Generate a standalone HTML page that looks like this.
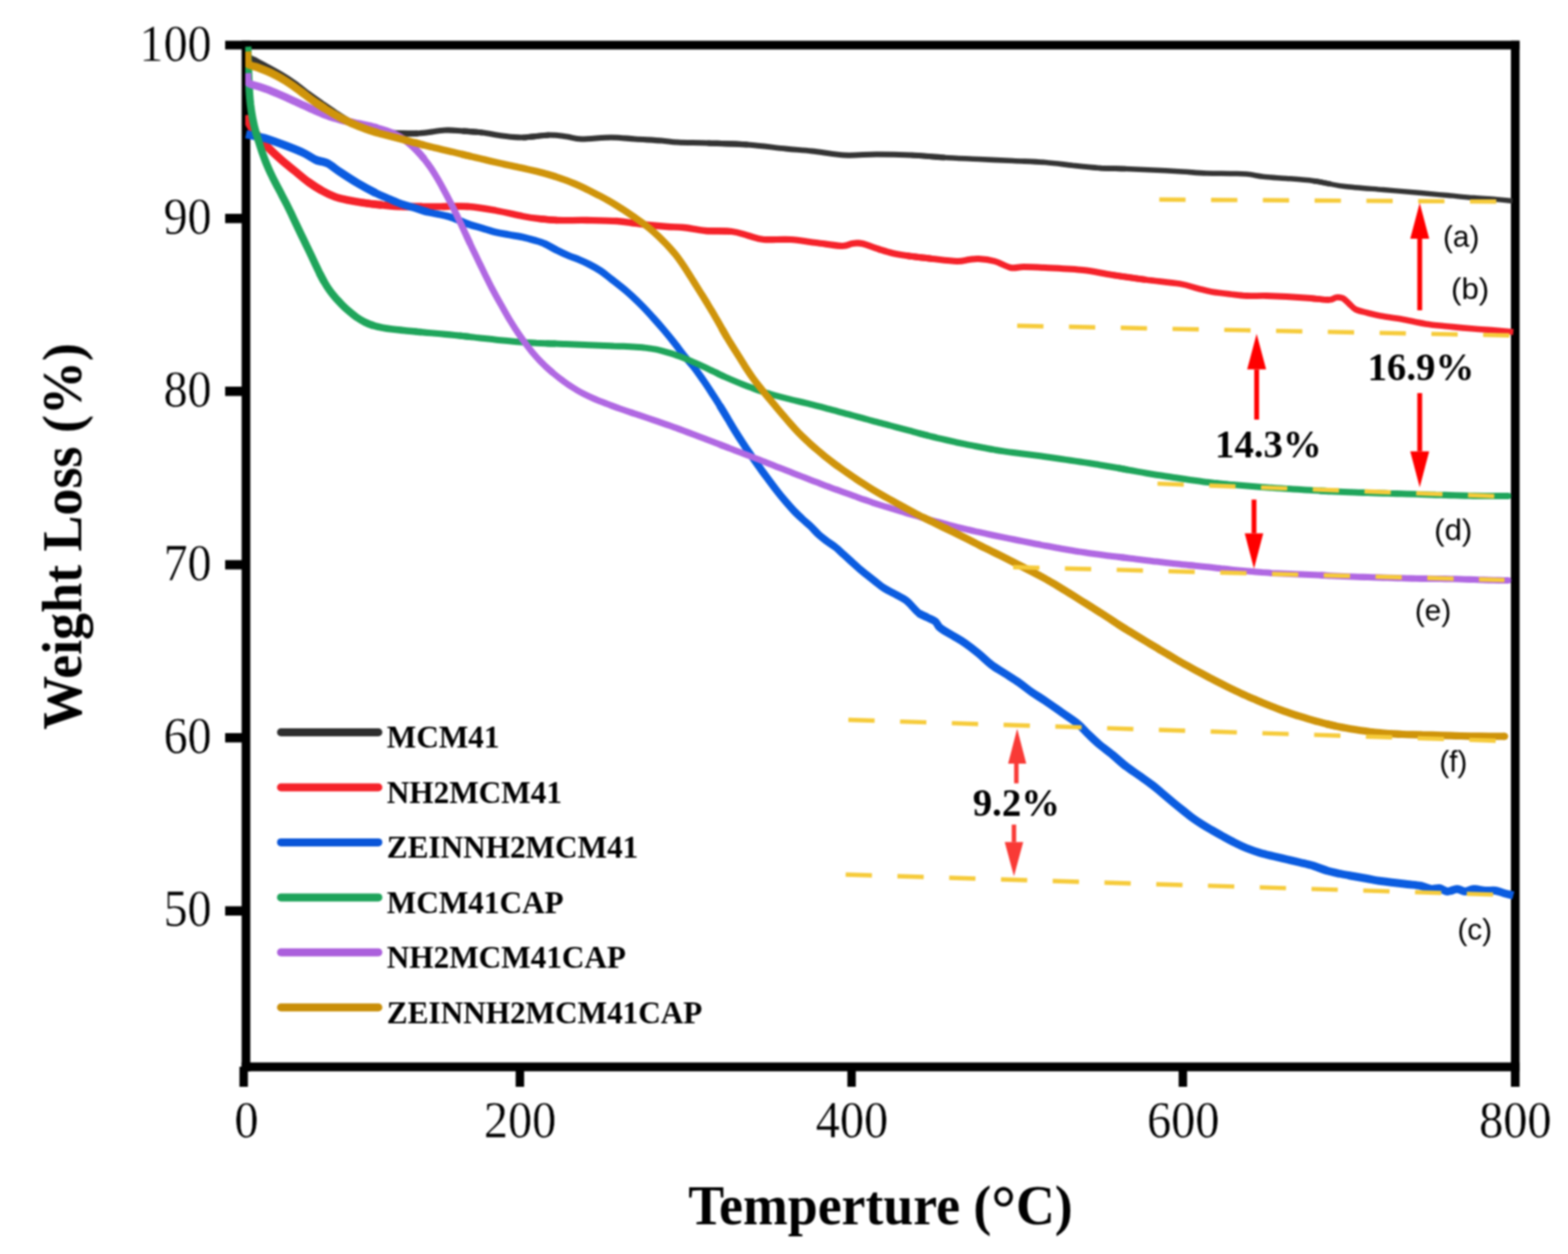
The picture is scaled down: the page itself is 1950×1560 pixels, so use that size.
<!DOCTYPE html>
<html lang="en">
<head>
<meta charset="utf-8">
<style>
html,body{margin:0;padding:0;background:#fff;}
body{width:1950px;height:1560px;overflow:hidden;}
svg{display:block;position:absolute;left:0;top:0;}
.tick{font-family:"Liberation Serif","DejaVu Serif",serif;font-size:66px;fill:#000;stroke:#fff;stroke-width:0.4px;vector-effect:non-scaling-stroke;}
.ttl{font-family:"Liberation Serif","DejaVu Serif",serif;font-weight:bold;font-size:69.5px;fill:#000;}
.leg{font-family:"Liberation Serif","DejaVu Serif",serif;font-weight:bold;font-size:40px;fill:#000;}
.pct{font-family:"Liberation Serif","DejaVu Serif",serif;font-weight:bold;font-size:49.5px;fill:#000;}
.lab{font-family:"Liberation Sans","DejaVu Sans",sans-serif;font-size:37px;fill:#000;}
.crv{fill:none;stroke-linecap:butt;stroke-linejoin:round;}
.dash{fill:none;stroke:#f6cb3a;stroke-width:5.4;}
</style>
</head>
<body>
<svg width="1950" height="1560" viewBox="0 0 1950 1560">
<defs><filter id="soft" filterUnits="userSpaceOnUse" x="0" y="0" width="1950" height="1560" color-interpolation-filters="sRGB"><feGaussianBlur stdDeviation="0.8"/></filter></defs>
<rect x="0" y="0" width="1950" height="1560" fill="#ffffff"/>
<g filter="url(#soft)">

<g id="axes" fill="#000">
<rect x="300.5" y="50.7" width="10.8" height="1282.3"/>
<rect x="280.0" y="50.7" width="1609.8" height="10.8"/>
<rect x="1879.0" y="50.7" width="10.8" height="1301.3"/>
<rect x="300.5" y="1321.7" width="1589.3" height="11.0"/>
<rect x="280.0" y="266.0" width="25.0" height="11.6"/>
<rect x="280.0" y="481.0" width="25.0" height="11.6"/>
<rect x="280.0" y="696.8" width="25.0" height="11.6"/>
<rect x="280.0" y="912.0" width="25.0" height="11.6"/>
<rect x="280.0" y="1127.4" width="25.0" height="11.6"/>
<rect x="297.8" y="1327.0" width="10.5" height="25.0"/>
<rect x="641.3" y="1327.0" width="10.5" height="25.0"/>
<rect x="1053.8" y="1327.0" width="10.5" height="25.0"/>
<rect x="1465.8" y="1327.0" width="10.5" height="25.0"/>
</g>
<clipPath id="plotclip"><rect x="305" y="55" width="1581" height="1272"/></clipPath>
<g id="curves" clip-path="url(#plotclip)">
<path class="crv" d="M307.0 70.0 C308.0 70.5 310.8 71.9 313.0 73.0 C315.2 74.1 316.7 74.8 320.0 76.5 C323.3 78.2 328.0 80.8 333.0 83.5 C338.0 86.2 344.3 89.6 350.0 93.0 C355.7 96.4 361.5 100.1 367.0 104.0 C372.5 107.9 377.5 112.4 383.0 116.5 C388.5 120.6 394.3 124.6 400.0 128.5" stroke="#333333" stroke-width="7.53"/>
<path class="crv" d="M383.0 116.5 C388.5 120.6 394.3 124.6 400.0 128.5 C405.7 132.4 411.5 136.4 417.0 140.0 C422.5 143.6 427.5 147.0 433.0 150.0 C438.5 153.0 444.3 155.8 450.0 158.0 C455.7 160.2 461.5 161.8 467.0 163.0" stroke="#333333" stroke-width="7.41"/>
<path class="crv" d="M450.0 158.0 C455.7 160.2 461.5 161.8 467.0 163.0 C472.5 164.2 474.2 164.5 483.0 165.0 C491.8 165.5 508.3 166.5 520.0 166.0" stroke="#333333" stroke-width="7.31"/>
<path class="crv" d="M483.0 165.0 C491.8 165.5 508.3 166.5 520.0 166.0 C531.7 165.5 543.8 162.5 553.0 162.0 C562.2 161.5 567.2 162.5 575.0 163.0 C582.8 163.5 591.7 164.0 600.0 165.0" stroke="#333333" stroke-width="7.22"/>
<path class="crv" d="M575.0 163.0 C582.8 163.5 591.7 164.0 600.0 165.0 C608.3 166.0 616.7 168.0 625.0 169.0 C633.3 170.0 640.3 171.2 650.0 171.0 C659.7 170.8 673.8 168.2 683.0 168.0" stroke="#333333" stroke-width="7.17"/>
<path class="crv" d="M650.0 171.0 C659.7 170.8 673.8 168.2 683.0 168.0 C692.2 167.8 698.3 169.2 705.0 170.0 C711.7 170.8 713.8 172.8 723.0 173.0 C732.2 173.2 748.8 171.0 760.0 171.0 C771.2 171.0 779.5 172.3 790.0 173.0 C800.5 173.7 814.2 174.3 823.0 175.0 C831.8 175.7 833.5 176.5 843.0 177.0 C852.5 177.5 865.5 177.5 880.0 178.0 C894.5 178.5 913.8 178.8 930.0 180.0" stroke="#333333" stroke-width="7.10"/>
<path class="crv" d="M880.0 178.0 C894.5 178.5 913.8 178.8 930.0 180.0 C946.2 181.2 963.7 183.7 977.0 185.0 C990.3 186.3 997.8 186.7 1010.0 188.0 C1022.2 189.3 1036.7 192.3 1050.0 193.0 C1063.3 193.7 1076.2 192.0 1090.0 192.0 C1103.8 192.0 1118.8 192.3 1133.0 193.0 C1147.2 193.7 1161.0 195.2 1175.0 196.0" stroke="#333333" stroke-width="6.98"/>
<path class="crv" d="M1133.0 193.0 C1147.2 193.7 1161.0 195.2 1175.0 196.0 C1189.0 196.8 1202.8 197.3 1217.0 198.0 C1231.2 198.7 1246.2 199.3 1260.0 200.0 C1273.8 200.7 1287.5 201.0 1300.0 202.0 C1312.5 203.0 1323.8 204.8 1335.0 206.0 C1346.2 207.2 1356.2 208.3 1367.0 209.0 C1377.8 209.7 1389.0 209.6 1400.0 210.0" stroke="#333333" stroke-width="6.75"/>
<path class="crv" d="M1367.0 209.0 C1377.8 209.7 1389.0 209.6 1400.0 210.0 C1411.0 210.4 1421.3 210.9 1433.0 211.5 C1444.7 212.1 1458.8 212.8 1470.0 213.5 C1481.2 214.2 1490.0 215.1 1500.0 215.5 C1510.0 215.9 1521.7 215.8 1530.0 216.0 C1538.3 216.2 1542.8 215.8 1550.0 216.5 C1557.2 217.2 1564.7 219.1 1573.0 220.0 C1581.3 220.9 1590.0 221.2 1600.0 222.0 C1610.0 222.8 1623.8 223.8 1633.0 225.0 C1642.2 226.2 1648.3 227.8 1655.0 229.0" stroke="#333333" stroke-width="6.52"/>
<path class="crv" d="M1633.0 225.0 C1642.2 226.2 1648.3 227.8 1655.0 229.0 C1661.7 230.2 1662.2 230.8 1673.0 232.0 C1683.8 233.2 1704.3 234.7 1720.0 236.0 C1735.7 237.3 1753.7 238.8 1767.0 240.0 C1780.3 241.2 1789.0 242.0 1800.0 243.0 C1811.0 244.0 1823.0 245.2 1833.0 246.0 C1843.0 246.8 1852.0 247.3 1860.0 248.0 C1868.0 248.7 1877.5 249.7 1881.0 250.0" stroke="#333333" stroke-width="6.31"/>
<path class="crv" d="M307.5 143.0 C307.8 144.5 308.1 149.3 309.0 152.0 C309.9 154.7 311.2 156.3 313.0 159.0 C314.8 161.7 316.7 164.0 320.0 168.0 C323.3 172.0 328.0 177.8 333.0 183.0 C338.0 188.2 344.3 194.0 350.0 199.0 C355.7 204.0 361.5 208.5 367.0 213.0 C372.5 217.5 377.5 222.0 383.0 226.0 C388.5 230.0 394.3 233.8 400.0 237.0" stroke="#f5222a" stroke-width="9.92"/>
<path class="crv" d="M383.0 226.0 C388.5 230.0 394.3 233.8 400.0 237.0 C405.7 240.2 411.5 243.0 417.0 245.0 C422.5 247.0 427.5 247.8 433.0 249.0 C438.5 250.2 443.0 251.0 450.0 252.0 C457.0 253.0 466.7 254.2 475.0 255.0" stroke="#f5222a" stroke-width="9.80"/>
<path class="crv" d="M450.0 252.0 C457.0 253.0 466.7 254.2 475.0 255.0 C483.3 255.8 491.7 256.7 500.0 257.0 C508.3 257.3 516.7 257.0 525.0 257.0" stroke="#f5222a" stroke-width="9.15"/>
<path class="crv" d="M500.0 257.0 C508.3 257.3 516.7 257.0 525.0 257.0 C533.3 257.0 540.3 257.0 550.0 257.0 C559.7 257.0 571.8 256.2 583.0 257.0" stroke="#f5222a" stroke-width="8.51"/>
<path class="crv" d="M550.0 257.0 C559.7 257.0 571.8 256.2 583.0 257.0 C594.2 257.8 605.8 260.0 617.0 262.0 C628.2 264.0 641.2 267.3 650.0 269.0 C658.8 270.7 662.8 271.2 670.0 272.0 C677.2 272.8 683.0 273.7 693.0 274.0" stroke="#f5222a" stroke-width="8.37"/>
<path class="crv" d="M670.0 272.0 C677.2 272.8 683.0 273.7 693.0 274.0 C703.0 274.3 717.7 273.8 730.0 274.0 C742.3 274.2 757.0 274.3 767.0 275.0 C777.0 275.7 783.3 277.2 790.0 278.0 C796.7 278.8 800.3 279.3 807.0 280.0 C813.7 280.7 822.8 281.5 830.0 282.0 C837.2 282.5 842.2 282.2 850.0 283.0 C857.8 283.8 867.0 286.2 877.0 287.0 C887.0 287.8 901.2 287.0 910.0 288.0" stroke="#f5222a" stroke-width="8.30"/>
<path class="crv" d="M877.0 287.0 C887.0 287.8 901.2 287.0 910.0 288.0 C918.8 289.0 923.3 291.3 930.0 293.0 C936.7 294.7 941.2 297.2 950.0 298.0 C958.8 298.8 972.2 297.3 983.0 298.0 C993.8 298.7 1004.3 300.7 1015.0 302.0 C1025.7 303.3 1039.5 305.8 1047.0 306.0 C1054.5 306.2 1055.8 303.5 1060.0 303.0 C1064.2 302.5 1066.5 301.8 1072.0 303.0 C1077.5 304.2 1086.7 308.0 1093.0 310.0 C1099.3 312.0 1104.3 313.7 1110.0 315.0 C1115.7 316.3 1118.7 316.8 1127.0 318.0 C1135.3 319.2 1149.5 320.8 1160.0 322.0" stroke="#f5222a" stroke-width="8.18"/>
<path class="crv" d="M1127.0 318.0 C1135.3 319.2 1149.5 320.8 1160.0 322.0 C1170.5 323.2 1182.5 324.8 1190.0 325.0 C1197.5 325.2 1200.5 323.5 1205.0 323.0 C1209.5 322.5 1211.7 321.7 1217.0 322.0 C1222.3 322.3 1230.3 323.2 1237.0 325.0 C1243.7 326.8 1251.0 331.8 1257.0 333.0 C1263.0 334.2 1265.8 332.0 1273.0 332.0 C1280.2 332.0 1287.7 332.3 1300.0 333.0 C1312.3 333.7 1333.2 334.5 1347.0 336.0 C1360.8 337.5 1370.0 340.0 1383.0 342.0 C1396.0 344.0 1411.0 346.2 1425.0 348.0" stroke="#f5222a" stroke-width="7.98"/>
<path class="crv" d="M1383.0 342.0 C1396.0 344.0 1411.0 346.2 1425.0 348.0 C1439.0 349.8 1456.2 351.2 1467.0 353.0 C1477.8 354.8 1483.3 357.3 1490.0 359.0 C1496.7 360.7 1500.3 361.8 1507.0 363.0 C1513.7 364.2 1522.8 365.2 1530.0 366.0 C1537.2 366.8 1542.5 367.7 1550.0 368.0 C1557.5 368.3 1566.7 367.8 1575.0 368.0 C1583.3 368.2 1590.8 368.5 1600.0 369.0 C1609.2 369.5 1621.2 370.3 1630.0 371.0 C1638.8 371.7 1647.7 373.2 1653.0 373.0" stroke="#f5222a" stroke-width="7.78"/>
<path class="crv" d="M1630.0 371.0 C1638.8 371.7 1647.7 373.2 1653.0 373.0 C1658.3 372.8 1659.2 370.3 1662.0 370.0 C1664.8 369.7 1667.3 369.7 1670.0 371.0 C1672.7 372.3 1675.3 375.7 1678.0 378.0 C1680.7 380.3 1682.3 383.2 1686.0 385.0 C1689.7 386.8 1694.8 387.7 1700.0 389.0 C1705.2 390.3 1709.8 391.7 1717.0 393.0 C1724.2 394.3 1733.7 395.3 1743.0 397.0 C1752.3 398.7 1763.5 401.5 1773.0 403.0 C1782.5 404.5 1790.0 405.0 1800.0 406.0 C1810.0 407.0 1823.0 408.2 1833.0 409.0 C1843.0 409.8 1851.8 410.3 1860.0 411.0 C1868.2 411.7 1878.3 412.7 1882.0 413.0" stroke="#f5222a" stroke-width="7.59"/>
<path class="crv" d="M306.0 167.0 C308.3 167.5 315.5 169.0 320.0 170.0 C324.5 171.0 327.2 171.2 333.0 173.0 C338.8 174.8 347.7 178.2 355.0 181.0 C362.3 183.8 370.7 187.0 377.0 190.0 C383.3 193.0 388.0 196.8 393.0 199.0 C398.0 201.2 402.0 200.5 407.0 203.0" stroke="#0b5ce0" stroke-width="10.12"/>
<path class="crv" d="M393.0 199.0 C398.0 201.2 402.0 200.5 407.0 203.0 C412.0 205.5 416.7 209.8 423.0 214.0 C429.3 218.2 437.7 223.7 445.0 228.0 C452.3 232.3 460.7 236.8 467.0 240.0" stroke="#0b5ce0" stroke-width="10.00"/>
<path class="crv" d="M445.0 228.0 C452.3 232.3 460.7 236.8 467.0 240.0 C473.3 243.2 477.5 244.7 483.0 247.0 C488.5 249.3 494.3 252.0 500.0 254.0 C505.7 256.0 511.5 257.3 517.0 259.0 C522.5 260.7 525.8 262.2 533.0 264.0" stroke="#0b5ce0" stroke-width="9.45"/>
<path class="crv" d="M517.0 259.0 C522.5 260.7 525.8 262.2 533.0 264.0 C540.2 265.8 551.7 267.5 560.0 270.0 C568.3 272.5 576.3 276.7 583.0 279.0" stroke="#0b5ce0" stroke-width="8.89"/>
<path class="crv" d="M560.0 270.0 C568.3 272.5 576.3 276.7 583.0 279.0 C589.7 281.3 594.3 282.3 600.0 284.0 C605.7 285.7 611.5 287.7 617.0 289.0 C622.5 290.3 627.5 291.0 633.0 292.0 C638.5 293.0 644.7 293.8 650.0 295.0 C655.3 296.2 660.5 297.7 665.0 299.0 C669.5 300.3 672.5 301.0 677.0 303.0 C681.5 305.0 687.0 308.5 692.0 311.0" stroke="#0b5ce0" stroke-width="8.80"/>
<path class="crv" d="M677.0 303.0 C681.5 305.0 687.0 308.5 692.0 311.0 C697.0 313.5 702.3 316.0 707.0 318.0 C711.7 320.0 715.7 321.2 720.0 323.0 C724.3 324.8 728.5 326.7 733.0 329.0 C737.5 331.3 742.5 334.0 747.0 337.0 C751.5 340.0 754.5 342.7 760.0 347.0 C765.5 351.3 773.7 357.5 780.0 363.0 C786.3 368.5 792.7 374.7 798.0 380.0 C803.3 385.3 807.3 389.8 812.0 395.0 C816.7 400.2 821.5 405.7 826.0 411.0 C830.5 416.3 834.7 421.5 839.0 427.0 C843.3 432.5 848.1 439.2 852.0 444.0 C855.9 448.8 858.5 451.2 862.3 456.0 C866.1 460.8 870.8 467.6 874.6 473.0 C878.4 478.4 881.5 483.2 884.9 488.5 C888.3 493.8 891.7 499.0 895.1 504.5 C898.5 510.0 902.0 515.8 905.4 521.5" stroke="#0b5ce0" stroke-width="8.80"/>
<path class="crv" d="M895.1 504.5 C898.5 510.0 902.0 515.8 905.4 521.5 C908.8 527.2 912.2 533.0 915.6 538.5 C919.0 544.0 922.5 549.2 925.9 554.4 C929.3 559.6 932.8 564.6 936.2 569.5 C939.6 574.4 943.0 579.2 946.4 584.0 C949.8 588.8 953.3 593.4 956.7 598.0 C960.1 602.6 963.5 607.1 966.9 611.5 C970.3 615.9 973.8 620.1 977.2 624.1 C980.6 628.1 984.0 631.9 987.4 635.5 C990.8 639.1 994.3 642.3 997.7 645.5 C1001.1 648.7 1004.5 651.2 1007.9 654.5 C1011.3 657.8 1014.8 662.0 1018.2 665.1 C1021.6 668.2 1025.1 670.7 1028.5 673.3 C1031.9 675.9 1035.3 677.8 1038.7 680.5 C1042.1 683.2 1045.6 686.6 1049.0 689.7 C1052.4 692.8 1055.8 695.9 1059.2 699.0 C1062.6 702.1 1066.1 705.3 1069.5 708.2 C1072.9 711.1 1076.6 713.9 1079.7 716.4 C1082.8 718.9 1084.6 720.4 1088.0 723.0 C1091.4 725.6 1095.8 729.3 1100.0 732.0 C1104.2 734.7 1108.5 736.5 1113.0 739.0 C1117.5 741.5 1123.3 744.3 1127.0 747.0 C1130.7 749.7 1132.3 752.3 1135.0 755.0 C1137.7 757.7 1140.0 760.8 1143.0 763.0 C1146.0 765.2 1149.7 766.3 1153.0 768.0" stroke="#0b5ce0" stroke-width="9.22"/>
<path class="crv" d="M1143.0 763.0 C1146.0 765.2 1149.7 766.3 1153.0 768.0 C1156.3 769.7 1160.5 771.0 1163.0 773.0 C1165.5 775.0 1166.0 778.0 1168.0 780.0 C1170.0 782.0 1171.8 783.0 1175.0 785.0 C1178.2 787.0 1182.8 789.5 1187.0 792.0 C1191.2 794.5 1195.0 796.5 1200.0 800.0 C1205.0 803.5 1211.5 808.5 1217.0 813.0 C1222.5 817.5 1227.5 822.8 1233.0 827.0 C1238.5 831.2 1244.3 834.3 1250.0 838.0 C1255.7 841.7 1261.5 845.2 1267.0 849.0 C1272.5 852.8 1277.5 857.2 1283.0 861.0 C1288.5 864.8 1293.8 867.8 1300.0 872.0 C1306.2 876.2 1313.3 881.3 1320.0 886.0 C1326.7 890.7 1334.5 895.5 1340.0 900.0 C1345.5 904.5 1348.5 908.7 1353.0 913.0 C1357.5 917.3 1362.0 921.8 1367.0 926.0 C1372.0 930.2 1377.5 934.0 1383.0 938.5 C1388.5 943.0 1394.3 948.6 1400.0 953.0" stroke="#0b5ce0" stroke-width="9.82"/>
<path class="crv" d="M1383.0 938.5 C1388.5 943.0 1394.3 948.6 1400.0 953.0 C1405.7 957.4 1411.5 961.1 1417.0 965.0 C1422.5 968.9 1428.3 972.9 1433.0 976.5 C1437.7 980.1 1440.8 983.0 1445.0 986.5 C1449.2 990.0 1453.7 993.9 1458.0 997.5 C1462.3 1001.1 1466.8 1004.7 1471.0 1008.0 C1475.2 1011.3 1479.0 1014.6 1483.0 1017.5 C1487.0 1020.4 1491.3 1023.2 1495.0 1025.5 C1498.7 1027.8 1500.8 1029.1 1505.0 1031.5 C1509.2 1033.9 1515.3 1037.4 1520.0 1040.0 C1524.7 1042.6 1528.0 1044.5 1533.0 1047.0 C1538.0 1049.5 1544.3 1052.7 1550.0 1055.0 C1555.7 1057.3 1561.5 1059.3 1567.0 1061.0 C1572.5 1062.7 1577.5 1063.7 1583.0 1065.0 C1588.5 1066.3 1594.3 1067.7 1600.0 1069.0 C1605.7 1070.3 1611.5 1071.7 1617.0 1073.0 C1622.5 1074.3 1627.5 1075.3 1633.0 1077.0 C1638.5 1078.7 1644.3 1081.3 1650.0 1083.0" stroke="#0b5ce0" stroke-width="9.90"/>
<path class="crv" d="M1633.0 1077.0 C1638.5 1078.7 1644.3 1081.3 1650.0 1083.0 C1655.7 1084.7 1661.5 1085.8 1667.0 1087.0 C1672.5 1088.2 1677.5 1089.0 1683.0 1090.0 C1688.5 1091.0 1694.3 1092.0 1700.0 1093.0 C1705.7 1094.0 1711.5 1095.2 1717.0 1096.0 C1722.5 1096.8 1727.5 1097.3 1733.0 1098.0 C1738.5 1098.7 1744.3 1099.3 1750.0 1100.0 C1755.7 1100.7 1762.0 1101.0 1767.0 1102.0 C1772.0 1103.0 1776.2 1105.5 1780.0 1106.0 C1783.8 1106.5 1786.7 1104.5 1790.0 1105.0 C1793.3 1105.5 1796.3 1108.8 1800.0 1109.0 C1803.7 1109.2 1808.3 1106.0 1812.0 1106.0 C1815.7 1106.0 1818.5 1109.0 1822.0 1109.0 C1825.5 1109.0 1828.8 1106.2 1833.0 1106.0 C1837.2 1105.8 1842.5 1107.7 1847.0 1108.0 C1851.5 1108.3 1856.2 1107.5 1860.0 1108.0 C1863.8 1108.5 1866.3 1110.0 1870.0 1111.0 C1873.7 1112.0 1880.0 1113.5 1882.0 1114.0" stroke="#0b5ce0" stroke-width="9.97"/>
<path class="crv" d="M308.0 58.0 C308.1 60.0 308.2 66.0 308.4 70.0 C308.5 74.0 308.6 78.0 308.8 82.0 C308.9 86.0 309.0 90.0 309.2 94.0 C309.3 98.0 309.5 102.0 309.7 106.0 C309.9 110.0 310.1 114.0 310.4 118.0 C310.7 122.0 311.1 126.0 311.5 130.0 C312.0 134.0 312.5 137.9 313.2 141.9 C313.8 145.8 314.6 149.7 315.5 153.6 C316.3 157.5 317.4 161.4 318.4 165.2 C319.5 169.1 320.7 172.9 321.9 176.7 C323.1 180.6 324.3 184.4 325.6 188.2 C326.9 191.9 328.3 195.7 329.7 199.5 C331.1 203.2 332.7 206.9 334.3 210.5 C335.9 214.2 337.7 217.8 339.4 221.4 C341.2 225.0 343.1 228.5 344.9 232.1 C346.8 235.6 348.7 239.1 350.5 242.7 C352.4 246.2 354.2 249.8 356.1 253.4 C357.9 256.9 359.6 260.5 361.4 264.1 C363.1 267.8 364.8 271.4 366.5 275.0 C368.2 278.6 369.9 282.2 371.7 285.9 C373.4 289.5 375.1 293.1 376.9 296.7 C378.6 300.3 380.4 303.9 382.1 307.5 C383.9 311.1 385.6 314.7 387.3 318.3 C389.0 322.0 390.7 325.6 392.4 329.2 C394.1 332.8 395.8 336.5 397.6 340.1 C399.4 343.6 401.2 347.2 403.2 350.6" stroke="#1fa55b" stroke-width="9.42"/>
<path class="crv" d="M397.6 340.1 C399.4 343.6 401.2 347.2 403.2 350.6 C405.2 354.1 407.3 357.5 409.6 360.7 C411.9 364.0 414.4 367.1 417.0 370.1 C419.6 373.1 422.4 376.0 425.2 378.9 C428.0 381.7 430.9 384.5 433.9 387.1 C436.9 389.7 440.0 392.2 443.2 394.5 C446.5 396.7 449.9 398.9 453.4 400.6 C456.9 402.4 460.6 403.8 464.4 405.0" stroke="#1fa55b" stroke-width="9.30"/>
<path class="crv" d="M453.4 400.6 C456.9 402.4 460.6 403.8 464.4 405.0 C468.1 406.2 472.0 407.0 475.9 407.7 C479.9 408.5 483.8 409.0 487.8 409.5 C491.8 410.0 495.8 410.4 499.7 410.8 C503.7 411.3 507.7 411.7 511.7 412.0 C515.7 412.4 519.7 412.8 523.7 413.1" stroke="#1fa55b" stroke-width="8.70"/>
<path class="crv" d="M511.7 412.0 C515.7 412.4 519.7 412.8 523.7 413.1 C527.6 413.5 531.6 413.9 535.6 414.2 C539.6 414.6 543.6 414.9 547.6 415.3 C551.6 415.7 555.6 416.0 559.6 416.4 C563.6 416.8 567.5 417.2 571.5 417.6 C575.5 418.0 579.5 418.5 583.5 418.9" stroke="#1fa55b" stroke-width="8.10"/>
<path class="crv" d="M571.5 417.6 C575.5 418.0 579.5 418.5 583.5 418.9 C587.4 419.4 591.4 419.8 595.4 420.3 C599.4 420.7 603.4 421.2 607.3 421.6 C611.3 422.1 615.3 422.5 619.3 422.9 C623.3 423.3 627.3 423.7 631.3 424.1 C635.2 424.5 639.2 424.9 643.2 425.2 C647.2 425.5 651.2 425.8 655.2 426.1 C659.2 426.3 663.2 426.5 667.2 426.7 C671.2 426.8 675.2 427.0 679.2 427.2 C683.2 427.3 687.2 427.5 691.2 427.6" stroke="#1fa55b" stroke-width="8.00"/>
<path class="crv" d="M679.2 427.2 C683.2 427.3 687.2 427.5 691.2 427.6 C695.2 427.8 699.2 428.0 703.2 428.1 C707.2 428.3 711.2 428.4 715.2 428.6 C719.2 428.8 723.2 428.9 727.2 429.1 C731.2 429.2 735.3 429.4 739.3 429.6 C743.3 429.7 747.3 429.9 751.3 430.0 C755.3 430.1 759.3 430.2 763.3 430.4 C767.3 430.5 771.3 430.6 775.3 430.8 C779.3 431.0 783.3 431.1 787.3 431.4 C791.3 431.7 795.3 431.9 799.2 432.3 C803.2 432.8 807.2 433.2 811.1 433.9 C815.1 434.5 819.0 435.3 822.9 436.3 C826.7 437.3 830.6 438.4 834.4 439.6 C838.2 440.8 841.9 442.2 845.7 443.6 C849.4 445.0 853.1 446.5 856.8 448.1 C860.5 449.6 864.2 451.2 867.9 452.8 C871.5 454.5 875.1 456.2 878.7 457.9 C882.3 459.7 885.9 461.5 889.5 463.2 C893.1 464.9 896.7 466.7 900.4 468.4" stroke="#1fa55b" stroke-width="8.00"/>
<path class="crv" d="M889.5 463.2 C893.1 464.9 896.7 466.7 900.4 468.4 C904.0 470.0 907.7 471.6 911.4 473.2 C915.0 474.8 918.8 476.3 922.5 477.7 C926.2 479.2 929.9 480.6 933.7 482.0 C937.5 483.4 941.2 484.8 945.0 486.1 C948.8 487.3 952.6 488.6 956.5 489.7 C960.3 490.9 964.1 492.0 968.0 493.0 C971.9 494.0 975.8 495.0 979.6 496.0 C983.5 497.0 987.4 497.9 991.3 498.8 C995.2 499.8 999.1 500.7 1003.0 501.7 C1006.9 502.6 1010.8 503.6 1014.7 504.6 C1018.5 505.5 1022.4 506.6 1026.3 507.6 C1030.2 508.6 1034.0 509.7 1037.9 510.7 C1041.8 511.8 1045.6 512.8 1049.5 513.9 C1053.4 514.9 1057.2 516.0 1061.1 517.0 C1065.0 518.1 1068.8 519.1 1072.7 520.2 C1076.6 521.2 1080.4 522.3 1084.3 523.3 C1088.2 524.3 1092.0 525.4 1095.9 526.4 C1099.8 527.4 1103.6 528.5 1107.5 529.5 C1111.4 530.5 1115.3 531.6 1119.1 532.6 C1123.0 533.6 1126.9 534.7 1130.7 535.7 C1134.6 536.8 1138.5 537.8 1142.3 538.9 C1146.2 539.9 1150.1 540.9 1154.0 541.9" stroke="#1fa55b" stroke-width="8.00"/>
<path class="crv" d="M1142.3 538.9 C1146.2 539.9 1150.1 540.9 1154.0 541.9 C1157.8 542.9 1161.7 543.8 1165.6 544.8 C1169.5 545.7 1173.4 546.6 1177.3 547.5 C1181.2 548.4 1185.1 549.3 1189.0 550.2 C1193.0 551.0 1196.9 551.8 1200.8 552.6 C1204.7 553.5 1208.7 554.2 1212.6 555.0 C1216.5 555.8 1220.5 556.6 1224.4 557.3 C1228.3 558.0 1232.3 558.8 1236.2 559.4 C1240.2 560.1 1244.1 560.8 1248.1 561.4 C1252.0 562.0 1256.0 562.6 1260.0 563.1 C1263.9 563.6 1267.9 564.1 1271.9 564.6 C1275.9 565.1 1279.8 565.6 1283.8 566.1 C1287.8 566.6 1291.8 567.1 1295.7 567.6 C1299.7 568.1 1303.7 568.7 1307.6 569.2 C1311.6 569.8 1315.6 570.4 1319.5 571.0 C1323.5 571.6 1327.4 572.1 1331.4 572.7 C1335.4 573.3 1339.3 573.9 1343.3 574.5 C1347.3 575.1 1351.2 575.7 1355.2 576.3 C1359.1 576.9 1363.1 577.5 1367.0 578.2 C1371.0 578.8 1374.9 579.5 1378.9 580.2 C1382.8 580.9 1386.8 581.6 1390.7 582.3 C1394.7 583.0 1398.6 583.7 1402.5 584.5" stroke="#1fa55b" stroke-width="8.03"/>
<path class="crv" d="M1390.7 582.3 C1394.7 583.0 1398.6 583.7 1402.5 584.5 C1406.5 585.2 1410.4 585.9 1414.4 586.6 C1418.3 587.3 1422.3 588.0 1426.2 588.7 C1430.2 589.4 1434.1 590.0 1438.1 590.7 C1442.0 591.3 1446.0 591.9 1449.9 592.5 C1453.9 593.1 1457.9 593.7 1461.8 594.2 C1465.8 594.8 1469.8 595.4 1473.7 596.0 C1477.7 596.6 1481.6 597.2 1485.6 597.8 C1489.6 598.3 1493.5 598.9 1497.5 599.4 C1501.5 599.9 1505.5 600.3 1509.4 600.8 C1513.4 601.2 1517.4 601.6 1521.4 601.9 C1525.4 602.3 1529.4 602.7 1533.4 603.0 C1537.4 603.4 1541.3 603.7 1545.3 604.1 C1549.3 604.4 1553.3 604.8 1557.3 605.1 C1561.3 605.4 1565.3 605.7 1569.3 606.0 C1573.3 606.3 1577.3 606.6 1581.3 606.8 C1585.3 607.1 1589.3 607.3 1593.3 607.6 C1597.3 607.8 1601.3 608.1 1605.3 608.3 C1609.3 608.6 1613.3 608.8 1617.3 609.0 C1621.3 609.3 1625.3 609.5 1629.3 609.8 C1633.3 610.0 1637.3 610.2 1641.3 610.5 C1645.3 610.7 1649.3 611.0 1653.3 611.2" stroke="#1fa55b" stroke-width="8.06"/>
<path class="crv" d="M1641.3 610.5 C1645.3 610.7 1649.3 611.0 1653.3 611.2 C1657.3 611.4 1661.3 611.6 1665.3 611.8 C1669.3 612.0 1673.3 612.1 1677.3 612.3 C1681.3 612.4 1685.3 612.5 1689.3 612.7 C1693.3 612.8 1697.3 612.9 1701.3 613.0 C1705.3 613.2 1709.3 613.3 1713.3 613.4 C1717.3 613.5 1721.3 613.6 1725.3 613.8 C1729.3 613.9 1733.3 614.0 1737.3 614.1 C1741.3 614.2 1745.3 614.4 1749.3 614.5 C1753.4 614.6 1757.4 614.7 1761.4 614.8 C1765.4 615.0 1769.4 615.1 1773.4 615.2 C1777.4 615.3 1781.4 615.4 1785.4 615.6 C1789.4 615.7 1793.4 615.8 1797.4 615.9 C1801.4 616.0 1805.4 616.2 1809.4 616.3 C1813.4 616.4 1817.4 616.5 1821.4 616.6 C1825.4 616.7 1829.4 616.8 1833.4 616.9 C1837.4 616.9 1841.4 617.0 1845.5 617.0 C1849.5 617.0 1853.5 617.0 1857.5 617.0 C1861.5 617.0 1866.5 617.0 1869.5 617.0 C1872.5 617.0 1874.5 617.0 1875.5 617.0" stroke="#1fa55b" stroke-width="8.09"/>
<circle cx="1875.5" cy="617.0" r="4.04" fill="#1fa55b"/>
<path class="crv" d="M307.5 91.0 C307.6 92.3 307.6 97.0 307.8 99.0 C308.1 101.0 308.5 102.1 309.0 103.0 C309.5 103.9 308.7 103.7 311.0 104.5 C313.3 105.3 318.7 106.6 322.5 107.8 C326.3 109.0 330.1 110.3 333.8 111.7 C337.5 113.2 341.2 114.7 344.9 116.3 C348.6 117.9 352.2 119.5 355.9 121.2 C359.5 122.8 363.1 124.5 366.8 126.2 C370.4 127.8 374.0 129.5 377.7 131.2 C381.3 132.9 384.9 134.6 388.6 136.2 C392.3 137.8 395.9 139.4 399.6 140.9 C403.3 142.4 407.0 143.9 410.8 145.2" stroke="#b068e2" stroke-width="9.62"/>
<path class="crv" d="M399.6 140.9 C403.3 142.4 407.0 143.9 410.8 145.2 C414.6 146.4 418.4 147.6 422.3 148.6 C426.1 149.7 430.0 150.6 433.9 151.4 C437.8 152.3 441.7 153.1 445.7 154.0 C449.6 154.8 453.5 155.6 457.4 156.5 C461.3 157.4 465.2 158.3 469.0 159.4" stroke="#b068e2" stroke-width="9.50"/>
<path class="crv" d="M457.4 156.5 C461.3 157.4 465.2 158.3 469.0 159.4 C472.9 160.4 476.7 161.5 480.5 162.8 C484.2 164.1 488.0 165.6 491.5 167.3 C495.1 169.0 498.5 170.9 501.8 173.1 C505.1 175.3 508.2 177.8 511.2 180.4 C514.2 183.0 517.0 185.8 519.7 188.7 C522.5 191.6 525.1 194.7 527.6 197.8" stroke="#b068e2" stroke-width="8.90"/>
<path class="crv" d="M519.7 188.7 C522.5 191.6 525.1 194.7 527.6 197.8 C530.0 200.9 532.4 204.1 534.7 207.4 C537.0 210.6 539.1 214.0 541.2 217.4 C543.3 220.8 545.3 224.3 547.3 227.8 C549.2 231.2 551.1 234.8 553.0 238.3 C554.9 241.8 556.8 245.4 558.6 248.9 C560.5 252.5 562.3 256.0 564.1 259.6 C565.9 263.2 567.7 266.8 569.4 270.4 C571.1 274.0 572.8 277.6 574.5 281.2 C576.2 284.9 577.9 288.5 579.5 292.1 C581.2 295.8 582.9 299.4 584.6 303.0" stroke="#b068e2" stroke-width="8.30"/>
<path class="crv" d="M579.5 292.1 C581.2 295.8 582.9 299.4 584.6 303.0 C586.3 306.7 588.0 310.3 589.8 313.9 C591.5 317.5 593.3 321.1 595.0 324.7 C596.8 328.3 598.5 331.9 600.3 335.5 C602.0 339.1 603.7 342.7 605.5 346.2 C607.3 349.8 609.1 353.4 610.9 357.0 C612.8 360.5 614.7 364.0 616.6 367.5 C618.5 371.0 620.5 374.5 622.5 378.0 C624.5 381.5 626.4 384.9 628.4 388.4 C630.4 391.9 632.4 395.4 634.4 398.8 C636.5 402.2 638.6 405.6 640.8 409.0 C643.0 412.3 645.2 415.6 647.5 418.9 C649.8 422.2 652.1 425.4 654.5 428.6 C656.9 431.8 659.4 435.0 661.9 438.1 C664.5 441.1 667.1 444.1 669.8 447.1 C672.6 450.0 675.4 452.8 678.3 455.6 C681.2 458.3 684.2 461.0 687.2 463.5" stroke="#b068e2" stroke-width="8.17"/>
<path class="crv" d="M678.3 455.6 C681.2 458.3 684.2 461.0 687.2 463.5 C690.3 466.1 693.4 468.6 696.5 471.1 C699.7 473.5 702.9 475.9 706.2 478.2 C709.5 480.4 712.8 482.6 716.3 484.6 C719.7 486.7 723.2 488.6 726.8 490.4 C730.3 492.2 734.0 493.9 737.6 495.5 C741.3 497.1 745.0 498.6 748.7 500.1 C752.4 501.6 756.1 503.1 759.9 504.4 C763.6 505.8 767.4 507.2 771.2 508.5 C774.9 509.8 778.7 511.1 782.5 512.3 C786.3 513.6 790.1 514.9 793.9 516.1 C797.7 517.4 801.5 518.7 805.3 520.0 C809.1 521.3 812.9 522.6 816.7 523.9 C820.4 525.2 824.2 526.5 828.0 527.8 C831.8 529.1 835.5 530.5 839.3 531.8 C843.1 533.2 846.8 534.6 850.6 536.0 C854.3 537.4 858.1 538.8 861.8 540.2 C865.6 541.6 869.3 543.1 873.0 544.5 C876.8 545.9 880.5 547.4 884.2 548.8 C888.0 550.2 891.7 551.7 895.4 553.1 C899.2 554.5 902.9 556.0 906.7 557.4" stroke="#b068e2" stroke-width="8.10"/>
<path class="crv" d="M895.4 553.1 C899.2 554.5 902.9 556.0 906.7 557.4 C910.4 558.8 914.1 560.2 917.9 561.7 C921.6 563.1 925.3 564.5 929.1 566.0 C932.8 567.4 936.5 568.9 940.3 570.4 C944.0 571.8 947.7 573.3 951.4 574.8 C955.1 576.3 958.9 577.7 962.6 579.2 C966.3 580.7 970.0 582.2 973.7 583.6 C977.5 585.1 981.2 586.5 984.9 588.0 C988.6 589.5 992.4 590.9 996.1 592.4 C999.8 593.8 1003.6 595.3 1007.3 596.7 C1011.0 598.2 1014.8 599.6 1018.5 601.0 C1022.2 602.5 1026.0 603.9 1029.7 605.3 C1033.5 606.7 1037.2 608.1 1041.0 609.4 C1044.8 610.8 1048.5 612.1 1052.3 613.5 C1056.1 614.8 1059.8 616.2 1063.6 617.5 C1067.4 618.9 1071.1 620.3 1074.9 621.6 C1078.7 622.9 1082.4 624.3 1086.2 625.6 C1090.0 626.8 1093.8 628.0 1097.6 629.2 C1101.4 630.4 1105.3 631.5 1109.1 632.7 C1112.9 633.8 1116.8 635.0 1120.6 636.1 C1124.5 637.3 1128.3 638.4 1132.1 639.6 C1136.0 640.7 1139.8 641.9 1143.6 643.0 C1147.5 644.1 1151.3 645.2 1155.2 646.3" stroke="#b068e2" stroke-width="8.00"/>
<path class="crv" d="M1143.6 643.0 C1147.5 644.1 1151.3 645.2 1155.2 646.3 C1159.0 647.4 1162.9 648.5 1166.7 649.5 C1170.6 650.6 1174.5 651.6 1178.3 652.6 C1182.2 653.6 1186.1 654.6 1190.0 655.6 C1193.9 656.5 1197.7 657.4 1201.6 658.4 C1205.5 659.3 1209.4 660.2 1213.3 661.1 C1217.2 661.9 1221.1 662.8 1225.1 663.7 C1229.0 664.5 1232.9 665.4 1236.8 666.2 C1240.7 667.0 1244.6 667.8 1248.5 668.6 C1252.5 669.5 1256.4 670.3 1260.3 671.0 C1264.2 671.8 1268.2 672.6 1272.1 673.4 C1276.0 674.2 1279.9 675.0 1283.9 675.8 C1287.8 676.5 1291.7 677.3 1295.6 678.1 C1299.6 678.8 1303.5 679.6 1307.4 680.3 C1311.4 681.0 1315.3 681.8 1319.2 682.5 C1323.2 683.2 1327.1 683.9 1331.1 684.5 C1335.0 685.2 1339.0 685.8 1342.9 686.4 C1346.9 687.0 1350.8 687.6 1354.8 688.2 C1358.8 688.7 1362.7 689.3 1366.7 689.8 C1370.7 690.4 1374.6 690.9 1378.6 691.4 C1382.6 691.9 1386.5 692.4 1390.5 692.8 C1394.5 693.3 1398.5 693.8 1402.4 694.3" stroke="#b068e2" stroke-width="8.03"/>
<path class="crv" d="M1390.5 692.8 C1394.5 693.3 1398.5 693.8 1402.4 694.3 C1406.4 694.8 1410.4 695.3 1414.4 695.7 C1418.3 696.2 1422.3 696.7 1426.3 697.2 C1430.2 697.7 1434.2 698.1 1438.2 698.6 C1442.2 699.1 1446.1 699.5 1450.1 700.0 C1454.1 700.5 1458.1 700.9 1462.0 701.3 C1466.0 701.8 1470.0 702.2 1474.0 702.6 C1478.0 703.0 1482.0 703.3 1485.9 703.7 C1489.9 704.1 1493.9 704.5 1497.9 704.9 C1501.9 705.3 1505.8 705.8 1509.8 706.2 C1513.8 706.7 1517.8 707.2 1521.7 707.6 C1525.7 708.1 1529.7 708.5 1533.7 708.9 C1537.7 709.3 1541.6 709.7 1545.6 710.1 C1549.6 710.4 1553.6 710.8 1557.6 711.1 C1561.6 711.5 1565.6 711.8 1569.6 712.1 C1573.5 712.3 1577.5 712.6 1581.5 712.9 C1585.5 713.1 1589.5 713.3 1593.5 713.5 C1597.5 713.7 1601.5 713.9 1605.5 714.1 C1609.5 714.3 1613.5 714.4 1617.5 714.5 C1621.5 714.7 1625.5 714.8 1629.5 715.0 C1633.5 715.2 1637.5 715.3 1641.5 715.5 C1645.5 715.7 1649.5 716.0 1653.5 716.2" stroke="#b068e2" stroke-width="8.06"/>
<path class="crv" d="M1641.5 715.5 C1645.5 715.7 1649.5 716.0 1653.5 716.2 C1657.5 716.4 1661.5 716.6 1665.5 716.8 C1669.5 717.0 1673.5 717.1 1677.5 717.3 C1681.5 717.4 1685.5 717.5 1689.5 717.7 C1693.5 717.8 1697.5 717.9 1701.5 718.0 C1705.5 718.2 1709.5 718.3 1713.5 718.4 C1717.5 718.5 1721.5 718.7 1725.5 718.8 C1729.5 718.9 1733.5 719.0 1737.5 719.1 C1741.5 719.2 1745.5 719.4 1749.5 719.5 C1753.5 719.6 1757.5 719.7 1761.5 719.8 C1765.5 719.8 1769.5 719.9 1773.5 719.9 C1777.5 720.0 1781.5 720.0 1785.5 720.0 C1789.5 720.0 1793.5 720.1 1797.5 720.1 C1801.5 720.2 1805.5 720.2 1809.5 720.3 C1813.5 720.4 1817.5 720.5 1821.5 720.7 C1825.5 720.8 1829.5 720.9 1833.5 721.0 C1837.5 721.2 1841.5 721.3 1845.5 721.4 C1849.5 721.6 1853.5 721.7 1857.5 721.8 C1861.5 721.9 1866.5 721.9 1869.5 722.0 C1872.5 722.0 1874.5 722.0 1875.5 722.0" stroke="#b068e2" stroke-width="8.09"/>
<circle cx="1875.5" cy="722.0" r="4.04" fill="#b068e2"/>
<path class="crv" d="M307.5 64.0 C307.6 65.7 307.6 71.4 307.8 74.0 C308.1 76.6 308.5 78.3 309.0 79.5 C309.5 80.7 308.8 80.1 311.0 81.0 C313.2 81.9 318.7 83.4 322.4 84.7 C326.2 86.1 329.9 87.5 333.6 89.1 C337.2 90.7 340.8 92.5 344.3 94.4 C347.9 96.3 351.3 98.3 354.7 100.4 C358.1 102.5 361.5 104.8 364.7 107.0 C368.0 109.3 371.2 111.8 374.4 114.1 C377.7 116.5 380.8 119.0 384.0 121.4 C387.3 123.8 390.5 126.1 393.8 128.4 C397.1 130.6 400.5 132.8 403.9 135.0" stroke="#cf940a" stroke-width="9.92"/>
<path class="crv" d="M393.8 128.4 C397.1 130.6 400.5 132.8 403.9 135.0 C407.3 137.1 410.7 139.2 414.2 141.2 C417.6 143.2 421.1 145.2 424.7 147.1 C428.2 148.9 431.8 150.8 435.4 152.5 C439.0 154.2 442.7 155.7 446.4 157.2 C450.1 158.7 453.9 160.1 457.7 161.5 C461.4 162.8 465.3 164.0 469.1 165.1" stroke="#cf940a" stroke-width="9.80"/>
<path class="crv" d="M457.7 161.5 C461.4 162.8 465.3 164.0 469.1 165.1 C472.9 166.3 476.8 167.3 480.7 168.3 C484.6 169.3 488.5 170.3 492.4 171.3 C496.2 172.3 500.1 173.3 504.0 174.3 C507.9 175.3 511.7 176.4 515.6 177.4 C519.5 178.5 523.4 179.5 527.3 180.5" stroke="#cf940a" stroke-width="9.25"/>
<path class="crv" d="M515.6 177.4 C519.5 178.5 523.4 179.5 527.3 180.5 C531.2 181.5 535.1 182.4 539.0 183.4 C542.9 184.3 546.8 185.2 550.7 186.2 C554.6 187.1 558.5 188.0 562.4 188.9 C566.3 189.9 570.2 190.8 574.1 191.8 C578.0 192.7 581.9 193.7 585.8 194.6" stroke="#cf940a" stroke-width="8.69"/>
<path class="crv" d="M574.1 191.8 C578.0 192.7 581.9 193.7 585.8 194.6 C589.7 195.5 593.6 196.5 597.5 197.4 C601.4 198.3 605.3 199.3 609.2 200.2 C613.1 201.1 617.0 202.0 620.9 202.9 C624.8 203.8 628.8 204.6 632.7 205.5 C636.6 206.3 640.5 207.1 644.4 208.0 C648.4 208.8 652.3 209.7 656.2 210.6 C660.1 211.5 664.0 212.4 667.9 213.3 C671.8 214.3 675.7 215.3 679.5 216.4 C683.4 217.5 687.3 218.6 691.1 219.8" stroke="#cf940a" stroke-width="8.63"/>
<path class="crv" d="M679.5 216.4 C683.4 217.5 687.3 218.6 691.1 219.8 C694.9 221.0 698.7 222.3 702.4 223.7 C706.2 225.1 709.9 226.6 713.6 228.1 C717.3 229.6 721.0 231.3 724.6 233.0 C728.2 234.7 731.8 236.5 735.4 238.3 C739.0 240.1 742.6 241.9 746.1 243.8 C749.7 245.7 753.2 247.6 756.6 249.6 C760.1 251.6 763.6 253.7 767.0 255.8 C770.4 257.9 773.8 260.0 777.1 262.2 C780.5 264.4 783.8 266.7 787.1 268.9 C790.4 271.2 793.7 273.5 796.9 275.9 C800.2 278.2 803.4 280.7 806.5 283.2 C809.6 285.7 812.6 288.3 815.6 291.0 C818.6 293.7 821.5 296.5 824.3 299.3 C827.1 302.1 829.9 305.0 832.6 308.0 C835.3 311.0 837.9 314.0 840.4 317.1 C842.9 320.3 845.2 323.5 847.5 326.8 C849.8 330.1 852.0 333.4 854.1 336.8 C856.3 340.2 858.4 343.6 860.6 347.0 C862.7 350.4 864.9 353.8 867.0 357.2 C869.1 360.6 871.2 364.0 873.4 367.4 C875.5 370.8 877.6 374.2 879.7 377.6 C881.7 381.1 883.8 384.5 885.9 387.9 C887.9 391.4 889.9 394.9 891.9 398.3 C893.9 401.8 895.9 405.3 897.8 408.8 C899.8 412.3 901.8 415.8 903.8 419.3" stroke="#cf940a" stroke-width="8.70"/>
<path class="crv" d="M897.8 408.8 C899.8 412.3 901.8 415.8 903.8 419.3 C905.8 422.7 907.9 426.1 910.1 429.5 C912.2 432.9 914.4 436.3 916.5 439.7 C918.7 443.1 920.8 446.5 922.9 449.9 C925.1 453.3 927.1 456.7 929.3 460.0 C931.5 463.4 933.7 466.7 936.1 470.0 C938.4 473.2 940.8 476.4 943.3 479.5 C945.8 482.7 948.3 485.8 950.8 488.9 C953.4 492.1 955.9 495.1 958.5 498.2 C961.1 501.3 963.7 504.3 966.2 507.4 C968.8 510.5 971.4 513.6 974.0 516.6 C976.6 519.7 979.1 522.8 981.8 525.8 C984.4 528.8 987.1 531.8 989.8 534.7 C992.5 537.7 995.4 540.5 998.2 543.3 C1001.1 546.1 1004.0 548.9 1007.0 551.6 C1009.9 554.3 1013.0 556.9 1016.0 559.5 C1019.1 562.1 1022.1 564.7 1025.2 567.2 C1028.4 569.7 1031.5 572.2 1034.7 574.6 C1037.9 577.1 1041.1 579.4 1044.4 581.8 C1047.7 584.1 1050.9 586.4 1054.2 588.7 C1057.5 591.0 1060.8 593.3 1064.1 595.5 C1067.5 597.8 1070.8 600.0 1074.2 602.1 C1077.6 604.3 1081.0 606.4 1084.4 608.5 C1087.9 610.6 1091.3 612.6 1094.8 614.6 C1098.3 616.6 1101.8 618.5 1105.3 620.5 C1108.8 622.4 1112.3 624.4 1115.8 626.3 C1119.4 628.2 1122.9 630.1 1126.4 632.1 C1129.9 634.0 1133.4 635.9 1137.0 637.8 C1140.5 639.7 1144.1 641.5 1147.6 643.4 C1151.2 645.2 1154.8 646.9 1158.4 648.7" stroke="#cf940a" stroke-width="8.84"/>
<path class="crv" d="M1147.6 643.4 C1151.2 645.2 1154.8 646.9 1158.4 648.7 C1162.0 650.5 1165.6 652.2 1169.2 654.0 C1172.8 655.7 1176.4 657.5 1180.1 659.3 C1183.7 661.0 1187.3 662.8 1190.9 664.5 C1194.5 666.3 1198.1 668.1 1201.7 669.9 C1205.2 671.7 1208.8 673.5 1212.4 675.3 C1216.0 677.1 1219.5 679.0 1223.1 680.8 C1226.7 682.6 1230.3 684.3 1233.9 686.1 C1237.5 687.9 1241.1 689.6 1244.7 691.4 C1248.3 693.2 1251.9 695.0 1255.5 696.8 C1259.1 698.6 1262.6 700.4 1266.2 702.3 C1269.8 704.1 1273.3 705.9 1276.9 707.8 C1280.5 709.6 1284.0 711.4 1287.6 713.3 C1291.1 715.2 1294.7 717.1 1298.2 719.0 C1301.7 721.0 1305.2 723.0 1308.6 725.0 C1312.1 727.0 1315.5 729.1 1319.0 731.2 C1322.4 733.2 1325.8 735.4 1329.2 737.5 C1332.6 739.6 1336.0 741.8 1339.4 743.9 C1342.8 746.1 1346.2 748.2 1349.6 750.3 C1353.0 752.4 1356.4 754.5 1359.8 756.7 C1363.2 758.8 1366.6 760.9 1370.0 763.1 C1373.3 765.3 1376.7 767.5 1380.0 769.7 C1383.4 771.9 1386.7 774.1 1390.1 776.3 C1393.5 778.5 1396.8 780.6 1400.2 782.7" stroke="#cf940a" stroke-width="9.26"/>
<path class="crv" d="M1390.1 776.3 C1393.5 778.5 1396.8 780.6 1400.2 782.7 C1403.7 784.8 1407.1 786.9 1410.5 789.0 C1413.9 791.1 1417.4 793.2 1420.8 795.2 C1424.2 797.3 1427.7 799.4 1431.1 801.5 C1434.5 803.6 1438.0 805.6 1441.4 807.7 C1444.9 809.8 1448.3 811.8 1451.8 813.8 C1455.2 815.9 1458.7 817.9 1462.2 819.9 C1465.6 821.9 1469.1 823.9 1472.6 825.9 C1476.1 827.8 1479.6 829.8 1483.1 831.7 C1486.6 833.7 1490.2 835.6 1493.7 837.4 C1497.3 839.3 1500.8 841.2 1504.3 843.1 C1507.9 844.9 1511.5 846.8 1515.0 848.6 C1518.6 850.5 1522.2 852.3 1525.8 854.1 C1529.3 855.9 1533.0 857.6 1536.6 859.4 C1540.2 861.1 1543.8 862.8 1547.5 864.4 C1551.1 866.1 1554.8 867.7 1558.5 869.3 C1562.2 870.8 1565.9 872.4 1569.6 874.0 C1573.3 875.5 1577.0 877.0 1580.7 878.5 C1584.4 880.0 1588.2 881.4 1592.0 882.8 C1595.7 884.2 1599.5 885.5 1603.3 886.8 C1607.1 888.1 1610.9 889.4 1614.7 890.6 C1618.6 891.8 1622.4 893.0 1626.2 894.1 C1630.1 895.3 1633.9 896.4 1637.8 897.4 C1641.7 898.5 1645.6 899.5 1649.4 900.5 C1653.3 901.4 1657.2 902.3 1661.2 903.2" stroke="#cf940a" stroke-width="9.26"/>
<path class="crv" d="M1649.4 900.5 C1653.3 901.4 1657.2 902.3 1661.2 903.2 C1665.1 904.0 1669.0 904.8 1673.0 905.5 C1676.9 906.2 1680.9 906.9 1684.8 907.5 C1688.8 908.2 1692.8 908.8 1696.7 909.3 C1700.7 909.9 1704.7 910.4 1708.7 910.9 C1712.7 911.3 1716.6 911.7 1720.6 912.0 C1724.6 912.4 1728.6 912.7 1732.6 912.9 C1736.6 913.2 1740.6 913.4 1744.7 913.5 C1748.7 913.7 1752.7 913.8 1756.7 913.9 C1760.7 914.0 1764.7 914.1 1768.7 914.2 C1772.7 914.2 1776.7 914.3 1780.7 914.4 C1784.8 914.5 1788.8 914.7 1792.8 914.8 C1796.8 914.9 1800.8 915.0 1804.8 915.1 C1808.8 915.3 1812.8 915.4 1816.8 915.5 C1820.9 915.6 1824.9 915.7 1828.9 915.8 C1832.9 915.9 1836.9 915.9 1840.9 915.9 C1844.9 916.0 1848.9 916.0 1852.9 916.0 C1857.0 916.0 1862.0 916.0 1865.0 916.0 C1868.0 916.0 1870.0 916.0 1871.0 916.0" stroke="#cf940a" stroke-width="9.22"/>
<circle cx="1871.0" cy="916.0" r="4.61" fill="#cf940a"/>
</g>
<g id="guides">
<line class="dash" x1="1441.7" y1="248.3" x2="1863.5" y2="250.8" stroke-dasharray="32.7 31.7"/>
<line class="dash" x1="1265.0" y1="405.3" x2="1877.5" y2="417.3" stroke-dasharray="32.7 31.7"/>
<line class="dash" x1="1439.5" y1="601.6" x2="1858.5" y2="617.3" stroke-dasharray="32.7 31.7"/>
<line class="dash" x1="1260.0" y1="705.5" x2="1871.0" y2="721.6" stroke-dasharray="32.7 31.7"/>
<line class="dash" x1="1055.0" y1="895.5" x2="1861.5" y2="921.5" stroke-dasharray="32.7 31.7"/>
<line class="dash" x1="1051.7" y1="1088.0" x2="1858.0" y2="1112.9" stroke-dasharray="32.7 31.7"/>
</g>
<g id="arrows">
<polygon points="1765.6,252.5 1753.8,297.0 1777.4,297.0" fill="#ff0000"/><rect x="1762.6" y="297.0" width="6.0" height="89.0" fill="#ff0000"/>
<polygon points="1765.6,606.2 1753.8,561.5 1777.4,561.5" fill="#ff0000"/><rect x="1762.6" y="489.0" width="6.0" height="72.5" fill="#ff0000"/>
<polygon points="1562.8,415.2 1551.0,459.5 1574.6,459.5" fill="#ff0000"/><rect x="1559.8" y="459.5" width="6.0" height="62.5" fill="#ff0000"/>
<polygon points="1559.5,707.5 1548.0,663.5 1571.0,663.5" fill="#ff0000"/><rect x="1556.5" y="621.5" width="6.0" height="42.0" fill="#ff0000"/>
<polygon points="1265.0,906.5 1253.7,950.0 1276.3,950.0" fill="#f93a36"/><rect x="1261.2" y="950.0" width="5.5" height="24.5" fill="#f93a36"/>
<polygon points="1261.0,1090.0 1249.5,1047.6 1272.5,1047.6" fill="#f93a36"/><rect x="1258.2" y="1025.8" width="5.5" height="21.8" fill="#f93a36"/>
</g>
<g id="labels">
<text class="tick" transform="translate(263.2 75.9) scale(0.9050 1)" text-anchor="end">100</text>
<text class="tick" transform="translate(263.2 290.9) scale(0.9050 1)" text-anchor="end">90</text>
<text class="tick" transform="translate(263.2 505.9) scale(0.9050 1)" text-anchor="end">80</text>
<text class="tick" transform="translate(263.2 721.9) scale(0.9050 1)" text-anchor="end">70</text>
<text class="tick" transform="translate(263.2 936.9) scale(0.9050 1)" text-anchor="end">60</text>
<text class="tick" transform="translate(263.2 1152.4) scale(0.9050 1)" text-anchor="end">50</text>
<text class="tick" transform="translate(306.5 1415.3) scale(0.9100 1)" text-anchor="middle">0</text>
<text class="tick" transform="translate(646.8 1415.3) scale(0.9100 1)" text-anchor="middle">200</text>
<text class="tick" transform="translate(1059.5 1415.3) scale(0.9100 1)" text-anchor="middle">400</text>
<text class="tick" transform="translate(1471.5 1415.3) scale(0.9100 1)" text-anchor="middle">600</text>
<text class="tick" transform="translate(1884.5 1415.3) scale(0.9100 1)" text-anchor="middle">800</text>
<text class="ttl" transform="translate(1095.0 1522.5) scale(0.9620 1)" text-anchor="middle">Temperture (<tspan font-size="80" dy="7.5">°</tspan><tspan dy="-7.5">C)</tspan></text>
<text class="ttl" transform="translate(101.0 667.4) rotate(-90) scale(0.9660 1)" text-anchor="middle">Weight Loss (%)</text>
<line x1="349.5" y1="911.0" x2="470.5" y2="911.0" stroke="#2e2e2e" stroke-width="10" stroke-linecap="round"/>
<text class="leg" transform="translate(481.0 930.2) scale(0.9710 1)" text-anchor="start">MCM41</text>
<line x1="349.5" y1="979.5" x2="470.5" y2="979.5" stroke="#f5222a" stroke-width="10" stroke-linecap="round"/>
<text class="leg" transform="translate(481.0 998.7) scale(0.9710 1)" text-anchor="start">NH2MCM41</text>
<line x1="349.5" y1="1047.9" x2="470.5" y2="1047.9" stroke="#0a55d8" stroke-width="10" stroke-linecap="round"/>
<text class="leg" transform="translate(481.0 1067.1) scale(0.9710 1)" text-anchor="start">ZEINNH2MCM41</text>
<line x1="349.5" y1="1116.4" x2="470.5" y2="1116.4" stroke="#1da35a" stroke-width="10" stroke-linecap="round"/>
<text class="leg" transform="translate(481.0 1135.6) scale(0.9710 1)" text-anchor="start">MCM41CAP</text>
<line x1="349.5" y1="1184.8" x2="470.5" y2="1184.8" stroke="#ab5fdc" stroke-width="10" stroke-linecap="round"/>
<text class="leg" transform="translate(481.0 1204.0) scale(0.9710 1)" text-anchor="start">NH2MCM41CAP</text>
<line x1="349.5" y1="1253.3" x2="470.5" y2="1253.3" stroke="#c98e08" stroke-width="10" stroke-linecap="round"/>
<text class="leg" transform="translate(481.0 1272.5) scale(0.9710 1)" text-anchor="start">ZEINNH2MCM41CAP</text>
<text class="pct" transform="translate(1700.7 472.5) scale(0.9750 1)" text-anchor="start">16.9%</text>
<text class="pct" transform="translate(1511.0 569.2) scale(0.9750 1)" text-anchor="start">14.3%</text>
<text class="pct" transform="translate(1209.7 1015.3) scale(0.9750 1)" text-anchor="start">9.2%</text>
<text class="lab" transform="translate(1794.5 307.0)" text-anchor="start">(a)</text>
<text class="lab" transform="translate(1804.5 371.8) scale(1.0500 1)" text-anchor="start">(b)</text>
<text class="lab" transform="translate(1783.5 672.2) scale(1.0500 1)" text-anchor="start">(d)</text>
<text class="lab" transform="translate(1759.5 771.7)" text-anchor="start">(e)</text>
<text class="lab" transform="translate(1790.0 959.5)" text-anchor="start">(f)</text>
<text class="lab" transform="translate(1812.5 1168.5)" text-anchor="start">(c)</text>
</g>
</g>
</svg>
</body>
</html>
